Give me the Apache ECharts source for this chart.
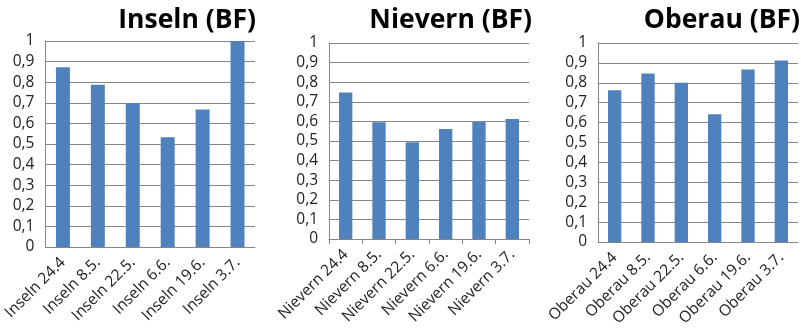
<!DOCTYPE html>
<html><head><meta charset="utf-8">
<script src="https://cdn.jsdelivr.net/npm/echarts@6/dist/echarts.min.js"></script>
<style>html,body{margin:0;padding:0;background:#fff}#c{width:801px;height:330px}</style>
</head><body><div id="c"></div>
<script>
const titles = ['Inseln (BF)', 'Nievern (BF)', 'Oberau (BF)'];
const dates = ['24.4', '8.5.', '22.5.', '6.6.', '19.6.', '3.7.'];
const sites = ['Inseln', 'Nievern', 'Oberau'];
const insValues = [0.872, 0.788, 0.699, 0.533, 0.668, 1.0];
const nieValues = [0.748, 0.596, 0.493, 0.561, 0.597, 0.612];
const obeValues = [0.763, 0.847, 0.800, 0.642, 0.867, 0.912];
const yTicks = [0, 0.1, 0.2, 0.3, 0.4, 0.5, 0.6, 0.7, 0.8, 0.9, 1];
const allValues = [insValues, nieValues, obeValues];

const grids = [
  {left: 45, right: 801 - 255, top: 41, bottom: 330 - 247},
  {left: 329, right: 801 - 529, top: 43, bottom: 330 - 239},
  {left: 598, right: 801 - 798, top: 43, bottom: 330 - 242}
];
const titleRight = [256, 532, 800];
const showTicks = [false, true, false];
const font = 'Open Sans, Noto Sans, sans-serif';

const chart = echarts.init(document.getElementById('c'), null, {renderer: 'canvas'});
const option = {
  animation: false,
  backgroundColor: '#fff',
  title: titles.map((t, i) => ({
    text: t, right: 801 - titleRight[i], top: 0, padding: 0,
    textStyle: {fontFamily: font, fontWeight: 'bold', fontSize: 26.5, color: '#000', lineHeight: 40}
  })),
  grid: grids,
  xAxis: sites.map((s, i) => ({
    type: 'category', gridIndex: i,
    data: dates.map(d => s + ' ' + d),
    axisLine: {lineStyle: {color: '#868686', width: 1}},
    axisTick: {show: showTicks[i], length: 5, lineStyle: {color: '#868686'}},
    axisLabel: {rotate: 45, interval: 0, fontFamily: font, fontSize: 15.5, color: '#222', margin: 13}
  })),
  yAxis: sites.map((s, i) => ({
    type: 'value', gridIndex: i, min: 0, max: 1, interval: 0.1,
    axisLine: {show: true, lineStyle: {color: '#868686'}},
    axisTick: {show: false},
    splitLine: {lineStyle: {color: '#868686', width: 1}},
    axisLabel: {fontFamily: font, fontSize: 15.5, color: '#222', margin: 11,
      formatter: v => {
        const t = yTicks.find(x => Math.abs(x - v) < 1e-9);
        return (t === undefined ? v : t).toString().replace('.', ',');
      }}
  })),
  series: allValues.map((vals, i) => ({
    type: 'bar', xAxisIndex: i, yAxisIndex: i, data: vals,
    barWidth: '40%', itemStyle: {color: '#4F81BD'}
  }))
};
chart.setOption(option);
</script></body></html>
